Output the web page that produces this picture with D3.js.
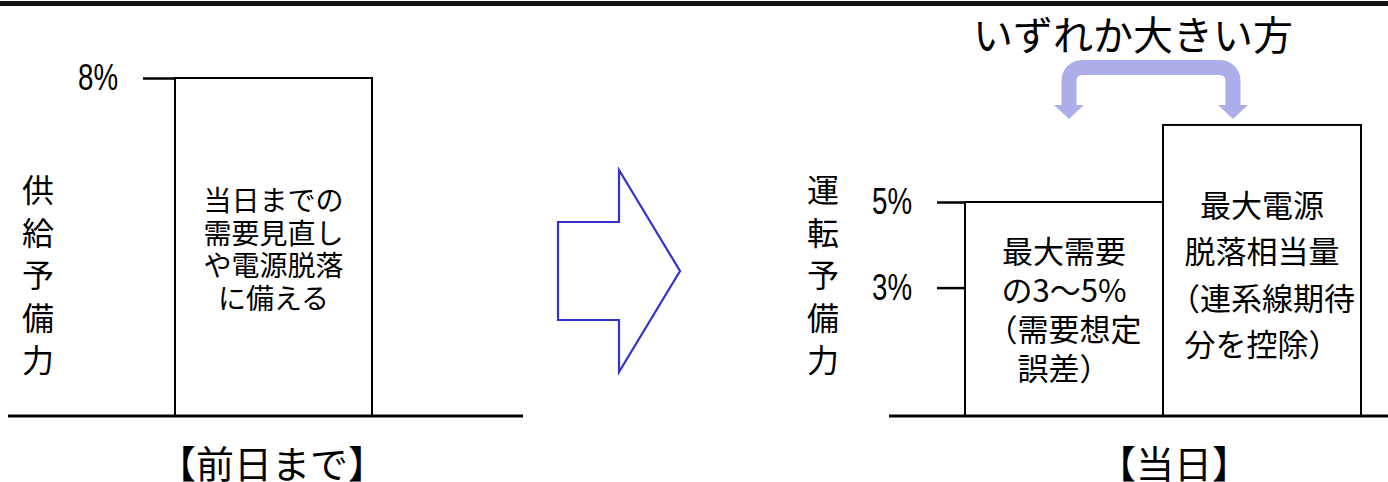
<!DOCTYPE html>
<html>
<head>
<meta charset="utf-8">
<script src="https://cdn.jsdelivr.net/npm/d3@7"></script>
<style>
  body { margin: 0; background: #fff; }
  svg { display: block; }
</style>
</head>
<body>
<div id="chart"></div>
<script>
// Values.
const leftCategories = ["前日まで"];
const leftValues = [8];
const leftTicks = [8];
const leftAxisLabel = "供給予備力";
const leftBoxLines = ["当日までの", "需要見直し", "や電源脱落", "に備える"];
const leftPanelLabel = "【前日まで】";

const rightCategories = ["最大需要", "最大電源脱落"];
const rightValues = [5, 6.8];
const rightTicks = [3, 5];
const rightAxisLabel = "運転予備力";
const rightBoxLines = [
  ["最大需要", "の3～5%", "（需要想定", "誤差）"],
  ["最大電源", "脱落相当量", "（連系線期待", "分を控除）"]
];
const rightPanelLabel = "【当日】";
const choiceLabel = "いずれか大きい方";

const width = 1388;
const height = 482;
const jp = "'Noto Sans CJK JP', 'Noto Sans', sans-serif";

const svg = d3.select("#chart")
  .append("svg")
    .attr("width", width)
    .attr("height", height)
    .attr("viewBox", [0, 0, width, height]);

// Thick rule along the top.
svg.append("rect")
    .attr("x", 0).attr("y", 1)
    .attr("width", width).attr("height", 5)
    .attr("fill", "#111");

// Scales.
const yL = d3.scaleLinear().domain([0, 8]).range([416, 78]);
const yR = d3.scaleLinear().domain([0, 5]).range([416, 202]);
const xL = d3.scaleBand().domain(leftCategories).range([175, 372]);
const xR = d3.scaleBand().domain(rightCategories).range([965, 1361]);

// Axes: only ticks and % labels, no domain line.
function styleAxis(g) {
  g.select(".domain").remove();
  g.selectAll(".tick line").attr("stroke", "#000").attr("stroke-width", 2.5);
  g.selectAll(".tick text")
      .attr("fill", "#000")
      .attr("font-family", "'Liberation Sans', Arial, sans-serif")
      .attr("font-size", 37)
      .attr("textLength", 40)
      .attr("lengthAdjust", "spacingAndGlyphs");
}

svg.append("g")
    .attr("transform", `translate(${xL.range()[0]},0)`)
    .call(d3.axisLeft(yL).tickValues(leftTicks).tickSize(32).tickPadding(25).tickFormat(d => d + "%"))
    .call(styleAxis);

svg.append("g")
    .attr("transform", `translate(${xR.range()[0]},0)`)
    .call(d3.axisLeft(yR).tickValues(rightTicks).tickSize(28).tickPadding(25).tickFormat(d => d + "%"))
    .call(styleAxis);

// Bars as outlined boxes.
svg.append("g")
  .selectAll("rect")
  .data(leftValues)
  .join("rect")
    .attr("x", (d, i) => xL(leftCategories[i]))
    .attr("y", d => yL(d))
    .attr("width", xL.bandwidth())
    .attr("height", d => yL(0) - yL(d))
    .attr("fill", "#fff")
    .attr("stroke", "#000")
    .attr("stroke-width", 2);

svg.append("g")
  .selectAll("rect")
  .data(rightValues)
  .join("rect")
    .attr("x", (d, i) => xR(rightCategories[i]))
    .attr("y", d => yR(d))
    .attr("width", xR.bandwidth())
    .attr("height", d => yR(0) - yR(d))
    .attr("fill", "#fff")
    .attr("stroke", "#000")
    .attr("stroke-width", 2);

// Baselines.
svg.append("line")
    .attr("x1", 8).attr("x2", 523)
    .attr("y1", yL(0)).attr("y2", yL(0))
    .attr("stroke", "#000").attr("stroke-width", 3);
svg.append("line")
    .attr("x1", 889).attr("x2", width)
    .attr("y1", yR(0)).attr("y2", yR(0))
    .attr("stroke", "#000").attr("stroke-width", 3);

// Text inside the boxes.
function boxText(lines, cx, y0, step, size) {
  svg.append("g")
    .selectAll("text")
    .data(lines)
    .join("text")
      .attr("x", cx)
      .attr("y", (d, i) => y0 + i * step)
      .attr("text-anchor", "middle")
      .attr("dominant-baseline", "central")
      .attr("font-family", jp)
      .attr("font-size", size)
      .attr("fill", "#000")
      .text(d => d);
}

boxText(leftBoxLines, xL(leftCategories[0]) + xL.bandwidth() / 2, 199, 32.5, 28);
boxText(rightBoxLines[0], xR(rightCategories[0]) + xR.bandwidth() / 2, 249, 39, 31);
boxText(rightBoxLines[1], xR(rightCategories[1]) + xR.bandwidth() / 2, 203, 46.5, 31);

// Vertical axis titles, one character per row.
function verticalLabel(label, cx) {
  svg.append("g")
    .selectAll("text")
    .data(Array.from(label))
    .join("text")
      .attr("x", cx)
      .attr("y", (d, i) => 188 + i * 42.5)
      .attr("text-anchor", "middle")
      .attr("dominant-baseline", "central")
      .attr("font-family", jp)
      .attr("font-size", 32)
      .attr("fill", "#000")
      .text(d => d);
}
verticalLabel(leftAxisLabel, 38);
verticalLabel(rightAxisLabel, 823);

// Panel labels below.
svg.append("text")
    .attr("x", 272).attr("y", 461)
    .attr("text-anchor", "middle")
    .attr("dominant-baseline", "central")
    .attr("font-family", jp).attr("font-size", 38)
    .text(leftPanelLabel);
svg.append("text")
    .attr("x", 1174).attr("y", 461)
    .attr("text-anchor", "middle")
    .attr("dominant-baseline", "central")
    .attr("font-family", jp).attr("font-size", 38)
    .text(rightPanelLabel);

// Big outlined arrow between the panels.
svg.append("path")
    .attr("d", d3.line()([
      [558, 222], [619, 222], [619, 170], [680, 271],
      [619, 372], [619, 320], [558, 320]
    ]) + "Z")
    .attr("fill", "#fff")
    .attr("stroke", "#3333cc")
    .attr("stroke-width", 2.2)
    .attr("stroke-linejoin", "miter");

// Curved double arrow over the right panel.
const xa = xR(rightCategories[0]) + 104, xb = xR(rightCategories[1]) + 70;
const arcTop = 67.5, arcBottom = 106, r = 13;
const p = d3.path();
p.moveTo(xa, arcBottom);
p.lineTo(xa, arcTop + r);
p.arcTo(xa, arcTop, xa + r, arcTop, r);
p.lineTo(xb - r, arcTop);
p.arcTo(xb, arcTop, xb, arcTop + r, r);
p.lineTo(xb, arcBottom);
svg.append("path")
    .attr("d", p.toString())
    .attr("fill", "none")
    .attr("stroke", "#adaee9")
    .attr("stroke-width", 15);
svg.append("g")
  .selectAll("path")
  .data([xa, xb])
  .join("path")
    .attr("d", x => d3.line()([[x - 15, arcBottom - 1], [x + 15, arcBottom - 1], [x, arcBottom + 13]]) + "Z")
    .attr("fill", "#adaee9");

svg.append("text")
    .attr("x", 1133).attr("y", 33)
    .attr("text-anchor", "middle")
    .attr("dominant-baseline", "central")
    .attr("font-family", jp).attr("font-size", 40)
    .text(choiceLabel);
</script>
</body>
</html>
